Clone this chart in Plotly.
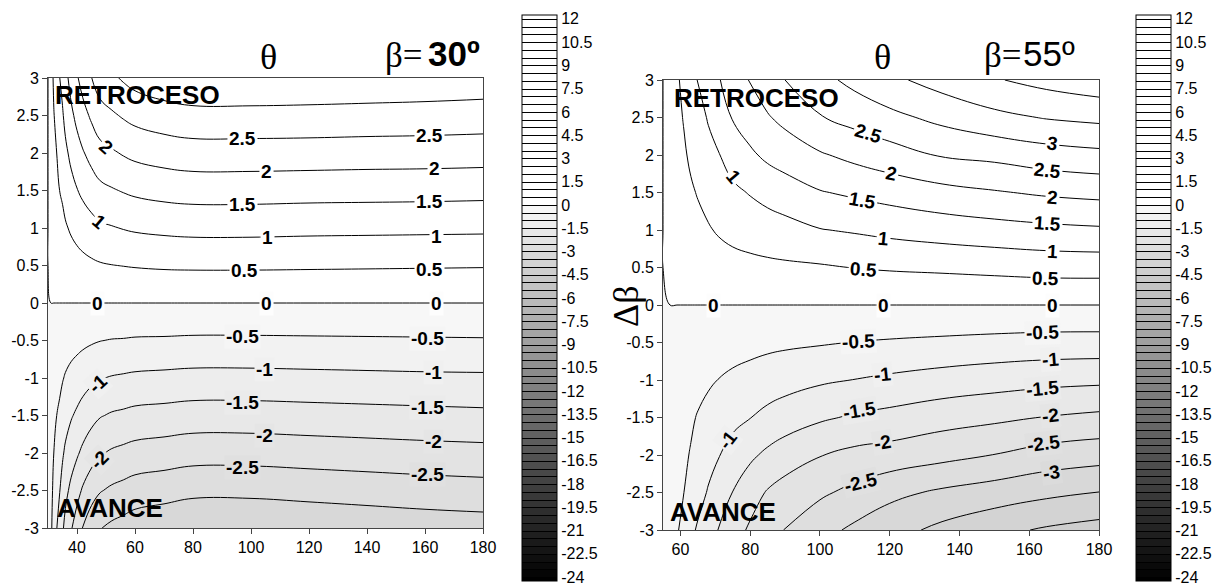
import plotly.graph_objects as go

# ---------------- data ----------------
dbeta = [-3, -2.5, -2, -1.5, -1, -0.5, 0, 0.5, 1, 1.5, 2, 2.5, 3]

theta_30 = [30, 31, 32, 33, 34, 35, 36, 38, 40, 42, 45, 48, 52, 56, 60, 70, 80, 100, 120, 140, 160, 180]
z_30 = [
    [0, -0.39, -0.75, -0.99, -1.17, -1.43, -1.64, -1.96, -2.24, -2.52, -2.8, -2.98, -3.1, -3.18, -3.27, -3.36, -3.45, -3.45, -3.39, -3.33, -3.27, -3.23],
    [0, -0.33, -0.63, -0.83, -0.98, -1.18, -1.37, -1.62, -1.84, -2.06, -2.3, -2.47, -2.58, -2.65, -2.73, -2.8, -2.88, -2.88, -2.83, -2.78, -2.73, -2.69],
    [0, -0.26, -0.5, -0.66, -0.78, -0.94, -1.08, -1.28, -1.44, -1.6, -1.8, -1.96, -2.06, -2.12, -2.18, -2.24, -2.3, -2.3, -2.26, -2.22, -2.18, -2.15],
    [0, -0.2, -0.38, -0.5, -0.59, -0.71, -0.81, -0.96, -1.08, -1.2, -1.35, -1.47, -1.55, -1.59, -1.64, -1.68, -1.73, -1.73, -1.7, -1.67, -1.64, -1.61],
    [0, -0.13, -0.25, -0.33, -0.39, -0.47, -0.54, -0.64, -0.72, -0.8, -0.9, -0.98, -1.03, -1.06, -1.09, -1.12, -1.15, -1.15, -1.13, -1.11, -1.09, -1.08],
    [0, -0.07, -0.13, -0.17, -0.2, -0.24, -0.27, -0.32, -0.36, -0.4, -0.45, -0.49, -0.52, -0.53, -0.55, -0.56, -0.58, -0.58, -0.57, -0.56, -0.55, -0.54],
    [0, 0, 0, 0, 0, 0, 0, 0, 0, 0, 0, 0, 0, 0, 0, 0, 0, 0, 0, 0, 0, 0],
    [0, 0.05, 0.1, 0.13, 0.17, 0.19, 0.23, 0.28, 0.33, 0.37, 0.42, 0.46, 0.49, 0.51, 0.53, 0.56, 0.57, 0.57, 0.56, 0.55, 0.54, 0.53],
    [0, 0.1, 0.19, 0.25, 0.33, 0.38, 0.45, 0.56, 0.65, 0.73, 0.83, 0.92, 0.97, 1.02, 1.06, 1.11, 1.14, 1.14, 1.12, 1.11, 1.1, 1.09],
    [0, 0.15, 0.29, 0.38, 0.5, 0.57, 0.68, 0.84, 0.98, 1.1, 1.25, 1.38, 1.46, 1.53, 1.59, 1.67, 1.71, 1.71, 1.69, 1.68, 1.67, 1.65],
    [0, 0.2, 0.38, 0.5, 0.66, 0.76, 0.9, 1.12, 1.3, 1.46, 1.66, 1.84, 1.94, 2.04, 2.12, 2.22, 2.28, 2.28, 2.27, 2.25, 2.24, 2.22],
    [0, 0.25, 0.48, 0.63, 0.83, 0.95, 1.13, 1.4, 1.63, 1.83, 2.08, 2.3, 2.43, 2.55, 2.65, 2.78, 2.85, 2.85, 2.84, 2.82, 2.8, 2.77],
    [0, 0.3, 0.57, 0.75, 0.99, 1.14, 1.35, 1.68, 1.95, 2.19, 2.49, 2.76, 2.91, 3.06, 3.18, 3.33, 3.42, 3.43, 3.4, 3.37, 3.34, 3.3],
]

theta_55 = [55, 57, 59, 61, 63, 65, 68, 71, 75, 80, 85, 90, 100, 110, 120, 135, 150, 165, 180]
z_55 = [
    [0, -0.2, -0.45, -0.66, -0.86, -1.08, -1.3, -1.52, -1.8, -2.07, -2.3, -2.52, -2.83, -3.1, -3.32, -3.62, -3.87, -4.06, -4.19],
    [0, -0.19, -0.37, -0.5, -0.64, -0.78, -1.05, -1.25, -1.51, -1.8, -2.04, -2.2, -2.42, -2.63, -2.87, -3.08, -3.23, -3.39, -3.51],
    [0, -0.17, -0.33, -0.43, -0.53, -0.66, -0.8, -0.98, -1.17, -1.41, -1.6, -1.75, -1.98, -2.13, -2.2, -2.35, -2.51, -2.7, -2.8],
    [0, -0.13, -0.26, -0.35, -0.44, -0.53, -0.64, -0.76, -0.88, -0.99, -1.13, -1.25, -1.43, -1.56, -1.65, -1.8, -1.9, -2.02, -2.11],
    [0, -0.08, -0.16, -0.23, -0.3, -0.36, -0.44, -0.51, -0.59, -0.67, -0.75, -0.81, -0.93, -1.01, -1.09, -1.2, -1.29, -1.36, -1.4],
    [0, -0.04, -0.08, -0.11, -0.14, -0.17, -0.21, -0.26, -0.31, -0.35, -0.39, -0.42, -0.46, -0.51, -0.55, -0.6, -0.65, -0.69, -0.7],
    [0, 0, 0, 0, 0, 0, 0, 0, 0, 0, 0, 0, 0, 0, 0, 0, 0, 0, 0],
    [0, 0.04, 0.08, 0.11, 0.15, 0.18, 0.23, 0.28, 0.33, 0.37, 0.4, 0.42, 0.45, 0.51, 0.55, 0.59, 0.64, 0.69, 0.7],
    [0, 0.08, 0.16, 0.22, 0.3, 0.37, 0.46, 0.55, 0.64, 0.71, 0.77, 0.83, 0.98, 1.05, 1.13, 1.23, 1.31, 1.38, 1.43],
    [0, 0.13, 0.25, 0.34, 0.44, 0.53, 0.66, 0.77, 0.9, 1.03, 1.16, 1.27, 1.47, 1.58, 1.69, 1.84, 1.96, 2.07, 2.14],
    [0, 0.15, 0.31, 0.44, 0.58, 0.69, 0.85, 0.98, 1.21, 1.42, 1.6, 1.72, 1.95, 2.13, 2.29, 2.54, 2.63, 2.78, 2.87],
    [0, 0.19, 0.38, 0.53, 0.68, 0.82, 1.04, 1.25, 1.53, 1.75, 1.96, 2.13, 2.47, 2.67, 2.87, 3.13, 3.37, 3.53, 3.62],
    [0, 0.2, 0.43, 0.63, 0.83, 1.02, 1.25, 1.47, 1.74, 2.03, 2.27, 2.5, 2.85, 3.14, 3.39, 3.7, 3.96, 4.16, 4.32],
]

# contour labels: text, theta, dbeta, angle
labels_30 = [
    ("2.5", 97.2, 2.2, 0), ("2.5", 161.7, 2.24, 0), ("2", 50.3, 2.08, 42),
    ("2", 105.5, 1.75, 0), ("2", 163.4, 1.79, 0), ("1.5", 97.2, 1.32, 0),
    ("1.5", 161.7, 1.35, 0), ("1", 47.6, 1.09, 40), ("1", 105.8, 0.88, 0),
    ("1", 164.1, 0.89, 0), ("0.5", 97.9, 0.43, 0), ("0.5", 161.7, 0.45, 0),
    ("0", 47.2, 0, 0), ("0", 105.5, 0, 0), ("0", 164.1, 0, 0),
    ("-0.5", 96.9, -0.45, 0), ("-0.5", 160.7, -0.47, 0), ("-1", 47.2, -1.07, -42),
    ("-1", 104.8, -0.89, 0), ("-1", 162.8, -0.92, 0), ("-1.5", 96.9, -1.32, 0),
    ("-1.5", 160.7, -1.39, 0), ("-2", 47.9, -2.09, -45), ("-2", 104.8, -1.76, 0),
    ("-2", 162.8, -1.85, 0), ("-2.5", 96.9, -2.19, 0), ("-2.5", 160.7, -2.29, 0),
]
labels_55 = [
    ("2.5", 113.9, 2.29, 17), ("3", 166.8, 2.15, 9), ("2", 120.5, 1.76, 12),
    ("2.5", 165.3, 1.8, 6), ("1", 75.1, 1.71, 50), ("1.5", 112.2, 1.4, 10),
    ("2", 166.8, 1.44, 5), ("1", 118.2, 0.89, 6), ("1.5", 165.3, 1.09, 4),
    ("0.5", 112.5, 0.47, 4), ("1", 166.8, 0.71, 3), ("0.5", 164.8, 0.36, 2),
    ("0", 69.4, 0, 0), ("0", 118.2, 0, 0), ("0", 166.8, 0, 0),
    ("-0.5", 111.0, -0.49, -3), ("-0.5", 163.9, -0.37, -2), ("-1", 117.9, -0.92, -6),
    ("-1", 166.2, -0.73, -4), ("-1", 73.4, -1.8, -52), ("-1.5", 111.3, -1.41, -9),
    ("-1.5", 163.9, -1.11, -5), ("-2", 117.9, -1.83, -9), ("-2", 166.2, -1.47, -6),
    ("-2.5", 111.6, -2.36, -14), ("-2.5", 164.2, -1.84, -7), ("-3", 166.5, -2.23, -8),
]

x_ticks_30 = [40, 60, 80, 100, 120, 140, 160, 180]
x_ticks_55 = [60, 80, 100, 120, 140, 160, 180]
y_ticks = [-3, -2.5, -2, -1.5, -1, -0.5, 0, 0.5, 1, 1.5, 2, 2.5, 3]
y_ticktext = ["-3", "-2.5", "-2", "-1.5", "-1", "-0.5", "0", "0.5", "1", "1.5", "2", "2.5", "3"]
cbar_ticks = [12, 10.5, 9, 7.5, 6, 4.5, 3, 1.5, 0, -1.5, -3, -4.5, -6, -7.5, -9, -10.5,
              -12, -13.5, -15, -16.5, -18, -19.5, -21, -22.5, -24]
cbar_ticktext = ["12", "10.5", "9", "7.5", "6", "4.5", "3", "1.5", "0", "-1.5", "-3", "-4.5",
                 "-6", "-7.5", "-9", "-10.5", "-12", "-13.5", "-15", "-16.5", "-18", "-19.5",
                 "-21", "-22.5", "-24"]

# ---------------- styling ----------------
W, H = 1224, 588
SANS = "Liberation Sans, Arial, sans-serif"
SERIF = "Liberation Serif, Times New Roman, serif"
LEV_START, LEV_END, LEV_SIZE = -24, 12, 0.5
lo = LEV_START - LEV_SIZE / 2
hi = LEV_END + LEV_SIZE / 2
f0 = (0 - lo) / (hi - lo)
colorscale = [[0, "rgb(0,0,0)"], [f0 - 1e-6, "rgb(250,250,250)"], [f0, "rgb(255,255,255)"], [1, "rgb(255,255,255)"]]


def band_gray(v):
    if v >= 0:
        return "rgb(255,255,255)"
    g = int(round(250 * (v - lo) / (0 - lo)))
    return "rgb(%d,%d,%d)" % (g, g, g)


def px_x(p):
    return p / W


def px_y(p):
    return 1 - p / H


def cbar(xpx):
    return dict(x=px_x(xpx), xanchor="left", y=px_y(298), yanchor="middle",
                len=566, lenmode="pixels", thickness=35, thicknessmode="pixels",
                xpad=0, ypad=0, outlinewidth=1, outlinecolor="black",
                tickmode="array", tickvals=cbar_ticks, ticktext=cbar_ticktext,
                ticks="", tickfont=dict(family=SANS, size=16, color="black"))


def contour_trace(x, z, xa, ya, cbx):
    return go.Contour(
        x=x, y=dbeta, z=z, xaxis=xa, yaxis=ya,
        autocontour=False,
        contours=dict(start=LEV_START, end=LEV_END, size=LEV_SIZE, coloring="fill", showlines=True),
        colorscale=colorscale,
        line=dict(color="black", width=1, smoothing=1.2),
        colorbar=cbar(cbx), hoverinfo="skip",
    )


fig = go.Figure()
fig.add_trace(contour_trace(theta_30, z_30, "x", "y", 522))
fig.add_trace(contour_trace(theta_55, z_55, "x2", "y2", 1136))

axis_common = dict(showline=True, linecolor="#444", linewidth=1, mirror=True,
                   ticks="outside", ticklen=5, tickcolor="#444", showgrid=False,
                   zeroline=False, tickfont=dict(family=SANS, size=16, color="black"))

fig.update_layout(
    width=W, height=H, margin=dict(l=0, r=0, t=0, b=0, autoexpand=False),
    paper_bgcolor="white", plot_bgcolor="white", showlegend=False,
    xaxis=dict(domain=[px_x(48), px_x(483)], range=[30, 180], tickmode="array",
               tickvals=x_ticks_30, anchor="y", **axis_common),
    yaxis=dict(domain=[px_y(528), px_y(78)], range=[-3, 3], tickmode="array",
               tickvals=y_ticks, ticktext=y_ticktext, anchor="x", **axis_common),
    xaxis2=dict(domain=[px_x(663), px_x(1099)], range=[55, 180], tickmode="array",
                tickvals=x_ticks_55, anchor="y2", **axis_common),
    yaxis2=dict(domain=[px_y(530), px_y(80)], range=[-3, 3], tickmode="array",
                tickvals=y_ticks, ticktext=y_ticktext, anchor="x2", **axis_common),
)

ann = []
for labels, xr, yr in ((labels_30, "x", "y"), (labels_55, "x2", "y2")):
    for t, xv, yv, ang in labels:
        v = float(t)
        ann.append(dict(text="<b>%s</b>" % t, x=xv, y=yv, xref=xr, yref=yr,
                        xanchor="center", yanchor="middle",
                        showarrow=False, textangle=ang,
                        bgcolor=band_gray(v) if v != 0 else "rgb(253,253,253)",
                        borderpad=1, font=dict(family=SANS, size=19, color="black")))


def paper_text(txt, xp, yp, family, size, xanchor="center", angle=0):
    return dict(text=txt, x=px_x(xp), y=px_y(yp), xref="paper", yref="paper",
                showarrow=False, xanchor=xanchor, yanchor="middle", textangle=angle,
                font=dict(family=family, size=size, color="black"))


# region labels
for txt, xp, yp in (("RETROCESO", 137, 95), ("AVANCE", 110, 508),
                    ("RETROCESO", 756, 98), ("AVANCE", 723, 512)):
    ann.append(paper_text("<b>%s</b>" % txt, xp, yp, SANS, 26))

# titles
ann.append(paper_text("θ", 268, 57, SERIF, 36))
ann.append(paper_text("θ", 882, 57, SERIF, 36))
ann.append(paper_text("β=", 425, 55, SERIF, 35, xanchor="right"))
ann.append(paper_text("<b>30º</b>", 426, 54, SANS, 35, xanchor="left"))
ann.append(paper_text("β=", 1024, 55, SERIF, 35, xanchor="right"))
ann.append(paper_text("55º", 1021, 54, SANS, 35, xanchor="left"))
ann.append(paper_text("Δβ", 626, 307, SERIF, 36, angle=-90))

fig.update_layout(annotations=ann)
fig.write_html("out.html", config={"displayModeBar": False},
               post_script="document.body.style.margin='0px';document.body.style.overflow='hidden';")
